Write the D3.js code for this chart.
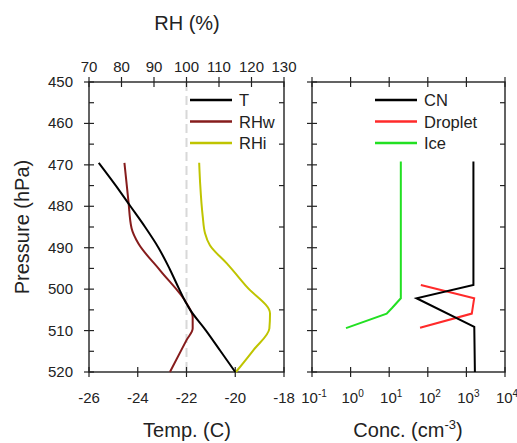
<!DOCTYPE html>
<html>
<head>
<meta charset="utf-8">
<script src="https://cdn.jsdelivr.net/npm/d3@7"></script>
<style>
body { margin: 0; background: #fff; }
text { font-family: "Liberation Sans", Arial, sans-serif; fill: #222; }
</style>
</head>
<body>
<svg id="chart" width="517" height="443"></svg>
<script>
// profile data, pressure in hPa
const tempP = [469.5, 475, 480, 485, 490, 495, 500, 503, 505, 510, 515, 520];
const tempC = [-25.6, -24.9, -24.3, -23.7, -23.15, -22.7, -22.3, -22.05, -21.85, -21.2, -20.6, -20.0];

const rhwP = [469.5, 478.5, 485.3, 489, 495.4, 503.5, 506.7, 509.5, 512.3, 520];
const rhw = [80.9, 82.1, 83.1, 85.2, 91.8, 100.1, 101.9, 101.9, 100, 94.9];

const rhiP = [469.5, 474.5, 482.5, 486.5, 489.4, 493.8, 499.4, 505.9, 509.5, 514.7, 520];
const rhi = [103.9, 104.2, 105, 105.7, 107.2, 112.4, 118.5, 125.7, 125.5, 120.6, 115.2];

const cnP = [469.2, 499.0, 502.2, 509.1, 520];
const cn = [1520, 1520, 51, 1600, 1660];

const dropP = [499, 502.2, 505.9, 509.3];
const drop = [66, 1590, 1380, 63];

const iceP = [469.2, 502.2, 504.5, 505.9, 509.4];
const ice = [20, 20, 12, 8.6, 0.76];

const pTicks = [450, 460, 470, 480, 490, 500, 510, 520];
const tTicks = [-26, -24, -22, -20, -18];
const rhTicks = [70, 80, 90, 100, 110, 120, 130];
const concTicks = [-1, 0, 1, 2, 3, 4];

const svg = d3.select("#chart");
const yTop = 82, yBot = 372;

const y = d3.scaleLinear().domain([450, 520]).range([yTop, yBot]);
const xT = d3.scaleLinear().domain([-26, -18]).range([89, 284]);
const xRH = d3.scaleLinear().domain([70, 130]).range([89, 284]);
const xC = d3.scaleLog().domain([0.1, 10000]).range([312, 505]);

// tick helper: major crosses the axis, minor points inward
function yTicks(x, dir) {
    for (let p = 450; p <= 520; p += 5) {
        const major = p % 10 == 0;
        svg.append("line")
            .attr("x1", major ? x - 5 : x).attr("x2", x + dir * 5)
            .attr("y1", y(p)).attr("y2", y(p))
            .attr("stroke", "#222").attr("stroke-width", 1.2);
    }
}

function frame(x0, x1) {
    svg.append("rect").attr("x", x0).attr("y", yTop)
        .attr("width", x1 - x0).attr("height", yBot - yTop)
        .attr("fill", "none").attr("stroke", "#222").attr("stroke-width", 1.4);
    yTicks(x0, 1);
    yTicks(x1, -1);
}

// left panel
svg.append("line")
    .attr("x1", xRH(100)).attr("x2", xRH(100))
    .attr("y1", yTop).attr("y2", yBot)
    .attr("stroke", "#d8d8d8").attr("stroke-width", 2)
    .attr("stroke-dasharray", "9,5");

frame(89, 284);

tTicks.forEach(function(t) {
    svg.append("line").attr("x1", xT(t)).attr("x2", xT(t))
        .attr("y1", yBot - 5).attr("y2", yBot + 5)
        .attr("stroke", "#222").attr("stroke-width", 1.2);
    svg.append("text").attr("x", xT(t)).attr("y", 403)
        .attr("text-anchor", "middle").attr("font-size", 15).text(t);
});
rhTicks.forEach(function(r) {
    svg.append("line").attr("x1", xRH(r)).attr("x2", xRH(r))
        .attr("y1", yTop - 5).attr("y2", yTop + 5)
        .attr("stroke", "#222").attr("stroke-width", 1.2);
    svg.append("text").attr("x", xRH(r)).attr("y", 72)
        .attr("text-anchor", "middle").attr("font-size", 15).text(r);
});
pTicks.forEach(function(p) {
    svg.append("text").attr("x", 73).attr("y", y(p) + 5)
        .attr("text-anchor", "end").attr("font-size", 15).text(p);
});

const lineT = d3.line().curve(d3.curveMonotoneY).x(function(d, i) { return xT(tempC[i]); }).y(function(d) { return y(d); });
const lineW = d3.line().curve(d3.curveMonotoneY).x(function(d, i) { return xRH(rhw[i]); }).y(function(d) { return y(d); });
const lineI = d3.line().curve(d3.curveMonotoneY).x(function(d, i) { return xRH(rhi[i]); }).y(function(d) { return y(d); });

svg.append("path").attr("d", lineW(rhwP)).attr("fill", "none").attr("stroke", "#861c1c").attr("stroke-width", 2);
svg.append("path").attr("d", lineI(rhiP)).attr("fill", "none").attr("stroke", "#bfc400").attr("stroke-width", 2);
svg.append("path").attr("d", lineT(tempP)).attr("fill", "none").attr("stroke", "#000").attr("stroke-width", 2);

// right panel
frame(312, 505);
concTicks.forEach(function(e) {
    const v = Math.pow(10, e);
    [yTop, yBot].forEach(function(yy) {
        svg.append("line").attr("x1", xC(v)).attr("x2", xC(v))
            .attr("y1", yy - 5).attr("y2", yy + 5)
            .attr("stroke", "#222").attr("stroke-width", 1.2);
    });
    const t = svg.append("text").attr("x", xC(v) + 2).attr("y", 403)
        .attr("text-anchor", "middle").attr("font-size", 15);
    t.append("tspan").text("10");
    t.append("tspan").attr("dy", -6).attr("font-size", 10).text(e);
});

const lineC = function(vals) {
    return d3.line().x(function(d, i) { return xC(vals[i]); }).y(function(d) { return y(d); });
};
svg.append("path").attr("d", lineC(ice)(iceP)).attr("fill", "none").attr("stroke", "#22e022").attr("stroke-width", 2);
svg.append("path").attr("d", lineC(drop)(dropP)).attr("fill", "none").attr("stroke", "#ff2a2a").attr("stroke-width", 2);
svg.append("path").attr("d", lineC(cn)(cnP)).attr("fill", "none").attr("stroke", "#000").attr("stroke-width", 2);

// legends
function legend(x, names, colors) {
    names.forEach(function(n, i) {
        const yy = 100 + i * 21.5;
        svg.append("line").attr("x1", x).attr("x2", x + 42)
            .attr("y1", yy).attr("y2", yy)
            .attr("stroke", colors[i]).attr("stroke-width", 2.5);
        svg.append("text").attr("x", x + 49).attr("y", yy + 6)
            .attr("font-size", 16.5).text(n);
    });
}
legend(190, ["T", "RHw", "RHi"], ["#000", "#861c1c", "#bfc400"]);
legend(375, ["CN", "Droplet", "Ice"], ["#000", "#ff2a2a", "#22e022"]);

// axis titles
svg.append("text").attr("x", 187).attr("y", 30).attr("text-anchor", "middle")
    .attr("font-size", 20).text("RH (%)");
svg.append("text").attr("x", 187).attr("y", 437).attr("text-anchor", "middle")
    .attr("font-size", 20).text("Temp. (C)");
const ct = svg.append("text").attr("x", 408).attr("y", 437).attr("text-anchor", "middle")
    .attr("font-size", 20);
ct.append("tspan").text("Conc. (cm");
ct.append("tspan").attr("dy", -8).attr("font-size", 13).text("-3");
ct.append("tspan").attr("dy", 8).text(")");
svg.append("text").attr("transform", "translate(29,227) rotate(-90)")
    .attr("text-anchor", "middle").attr("font-size", 20).text("Pressure (hPa)");
</script>
</body>
</html>
